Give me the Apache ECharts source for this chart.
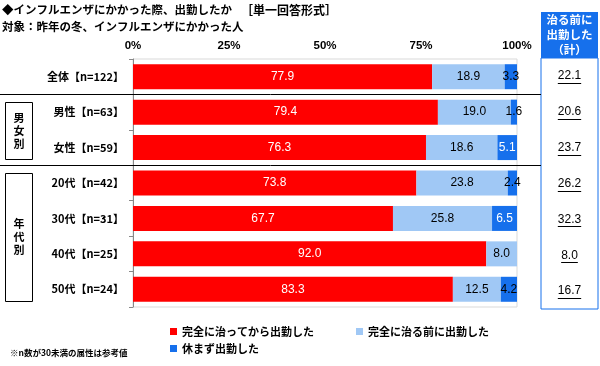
<!DOCTYPE html>
<html><head><meta charset="utf-8">
<script src="https://cdn.jsdelivr.net/npm/echarts@6/dist/echarts.min.js"></script>
<style>html,body{margin:0;padding:0;background:#fff}#c{width:600px;height:366px}</style>
</head><body><div id="c"></div>
<script>
const categories = ['全体【n=122】','男性【n=63】','女性【n=59】','20代【n=42】','30代【n=31】','40代【n=25】','50代【n=24】'];
const seriesNames = ['完全に治ってから出勤した','完全に治る前に出勤した','休まず出勤した'];
const recovered = [77.9, 79.4, 76.3, 73.8, 67.7, 92.0, 83.3];
const notRecovered = [18.9, 19.0, 18.6, 23.8, 25.8, 8.0, 12.5];
const noRest = [3.3, 1.6, 5.1, 2.4, 6.5, 0, 4.2];
const totals = [22.1, 20.6, 23.7, 26.2, 32.3, 8.0, 16.7];
const xTicks = [0, 25, 50, 75, 100];

const FONT = '"Liberation Sans","Noto Sans CJK JP",sans-serif';
const JP = '"Noto Sans CJK JP","Liberation Sans",sans-serif';
const RED = '#ff0000', LBLUE = '#a0c8f5', BLUE = '#1670ec';
const G = {left:133, right:83, top:59, height:248};
const band = G.height / categories.length;

const mc = document.createElement('canvas').getContext('2d');
function tw(t, f){ mc.font = f; return mc.measureText(t).width; }

const chart = echarts.init(document.getElementById('c'), null, {renderer:'canvas'});
function lbl(color){ return {show:true, position:'inside', color:color, fontSize:12, fontFamily:FONT,
  formatter: p => p.value > 0 ? p.value.toFixed(1) : ''}; }

const sepYs = [1,3].map(k => Math.round(G.top + band*k) + 0.5);
const graphics = [];
sepYs.forEach(y => graphics.push({type:'line', shape:{x1:0,y1:y,x2:541,y2:y}, style:{stroke:'#000', lineWidth:1}, z:10}));
function groupBox(i0, i1, txt){
  const y0 = G.top + band*i0 + 8, y1 = G.top + band*(i1+1) - 6;
  graphics.push({type:'rect', shape:{x:5.5,y:Math.round(y0)+0.5,width:27,height:Math.round(y1-y0)}, style:{fill:'#fff', stroke:'#000', lineWidth:1}});
  graphics.push({type:'text', x:19, y:(y0+y1)/2, style:{text:txt, font:'bold 11px '+JP, fill:'#000', align:'center', verticalAlign:'middle', lineHeight:13}});
}
groupBox(1,2,'男\n女\n別');
groupBox(3,6,'年\n代\n別');
graphics.push({type:'rect', shape:{x:541,y:12,width:57,height:46}, style:{fill:BLUE}});
graphics.push({type:'text', x:569.5, y:35, style:{text:'治る前に\n出勤した\n（計）', font:'bold 11.5px '+JP, fill:'#fff', align:'center', verticalAlign:'middle', lineHeight:15}});
graphics.push({type:'text', x:2, y:4, style:{text:'◆インフルエンザにかかった際、出勤したか', font:'bold 11.5px '+JP, fill:'#000'}});
graphics.push({type:'text', x:241, y:4, style:{text:'［単一回答形式］', font:'bold 12px '+JP, fill:'#000'}});
graphics.push({type:'text', x:2, y:21, style:{text:'対象：昨年の冬、インフルエンザにかかった人', font:'bold 11.5px '+JP, fill:'#000'}});
graphics.push({type:'text', x:10, y:349, style:{text:'※n数が30未満の属性は参考値', font:'bold 8.5px '+JP, fill:'#000'}});

const option = {
  animation:false,
  textStyle:{fontFamily:FONT},
  grid:[
    {left:G.left, right:G.right, top:G.top, height:G.height, show:true, borderColor:'#d9d9d9', borderWidth:1},
    {left:541, width:57, top:G.top-1, height:G.height+3, show:true, borderColor:BLUE, borderWidth:1}
  ],
  xAxis:[
    {type:'value', gridIndex:0, position:'top', min:xTicks[0], max:xTicks[xTicks.length-1], interval:25,
     axisLine:{show:false}, axisTick:{show:false}, splitLine:{show:false},
     axisLabel:{formatter:'{value}%', fontSize:11.5, fontWeight:'bold', color:'#000', margin:7, fontFamily:FONT}},
    {type:'value', gridIndex:1, min:0, max:1, show:false}
  ],
  yAxis:[
    {type:'category', gridIndex:0, inverse:true, data:categories,
     axisLine:{show:true, lineStyle:{color:'#888'}}, axisTick:{show:true, length:4, lineStyle:{color:'#888'}},
     axisLabel:{fontSize:11, fontWeight:'bold', color:'#000', margin:9, fontFamily:JP}},
    {type:'category', gridIndex:1, inverse:true, data:categories, show:false}
  ],
  legend:[
    {data:[seriesNames[0], seriesNames[1]], left:165, top:321, itemWidth:7, itemHeight:7, itemGap:42, icon:'rect',
     textStyle:{fontSize:11, fontWeight:'bold', color:'#000', fontFamily:JP}},
    {data:[seriesNames[2]], left:165, top:338, itemWidth:7, itemHeight:7, icon:'rect',
     textStyle:{fontSize:11, fontWeight:'bold', color:'#000', fontFamily:JP}}
  ],
  series:[
    {name:seriesNames[0], type:'bar', stack:'s', data:recovered, barWidth:25, itemStyle:{color:RED}, label:lbl('#fff')},
    {name:seriesNames[1], type:'bar', stack:'s', data:notRecovered, barWidth:25, itemStyle:{color:LBLUE}, label:lbl('#000')},
    {name:seriesNames[2], type:'bar', stack:'s', barWidth:25, itemStyle:{color:BLUE},
     data:noRest.map(v => ({value:v, label:{color: v >= 5 ? '#fff' : '#000'}})), label:lbl('#000')},
    {type:'custom', xAxisIndex:1, yAxisIndex:1, data:totals.map((v,i)=>[0.5, i, v]), encode:{x:0,y:1},
     renderItem:(params, api) => {
       const p = api.coord([api.value(0), api.value(1)]);
       const t = api.value(2).toFixed(1);
       const f = '12px ' + FONT;
       const w = tw(t, f);
       const ly = Math.round(p[1] + 7) + 0.5;
       return {type:'group', children:[
         {type:'text', x:p[0], y:p[1], style:{text:t, font:f, fill:'#000', align:'center', verticalAlign:'middle'}},
         {type:'line', shape:{x1:p[0]-w/2, y1:ly, x2:p[0]+w/2, y2:ly}, style:{stroke:'#000', lineWidth:1}}
       ]};
     }}
  ],
  graphic: graphics
};
chart.setOption(option);
</script></body></html>
